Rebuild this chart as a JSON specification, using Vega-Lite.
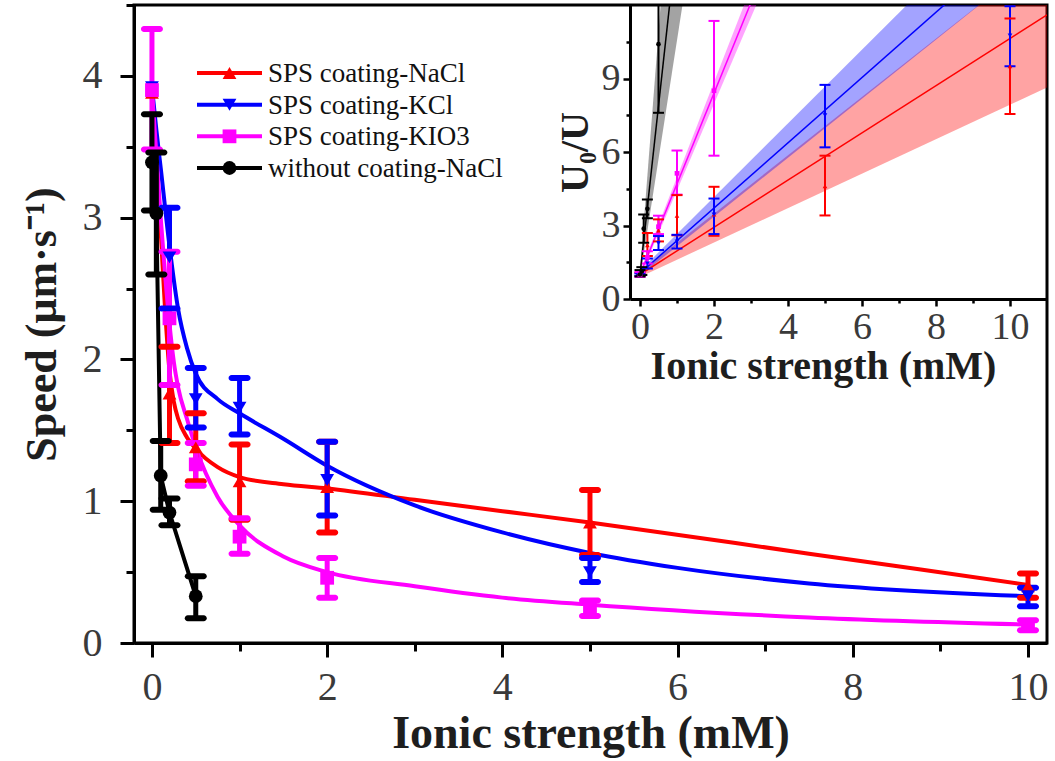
{
  "$schema": "https://vega.github.io/schema/vega-lite/v6.json",
  "width": 913,
  "height": 638,
  "autosize": "none",
  "padding": {"left": 134, "top": 5, "right": 8, "bottom": 118},
  "background": "white",
  "config": {
    "view": {"stroke": "black", "strokeWidth": 3},
    "font": "Liberation Serif",
    "legend": {"disable": true},
    "axis": {
      "grid": false,
      "domainColor": "black",
      "domainWidth": 3,
      "tickColor": "black",
      "labelFont": "Liberation Serif",
      "titleFont": "Liberation Serif",
      "titleFontWeight": "bold",
      "labelColor": "#3a3a3a",
      "titleColor": "#1e1e1e",
      "format": "d"
    }
  },
  "datasets": {
    "legendRows": [
      {"series": "SPS coating-NaCl"},
      {"series": "SPS coating-KCl"},
      {"series": "SPS coating-KIO3"},
      {"series": "without coating-NaCl"}
    ],
    "speed": [
      {"series": "SPS coating-NaCl", "x": 0, "y": 3.88, "lo": null, "hi": null},
      {"series": "SPS coating-NaCl", "x": 0.2, "y": 1.76, "lo": 1.41, "hi": 2.09},
      {"series": "SPS coating-NaCl", "x": 0.5, "y": 1.38, "lo": 1.14, "hi": 1.62},
      {"series": "SPS coating-NaCl", "x": 1, "y": 1.14, "lo": 0.87, "hi": 1.40},
      {"series": "SPS coating-NaCl", "x": 2, "y": 1.10, "lo": 0.78, "hi": 1.42},
      {"series": "SPS coating-NaCl", "x": 5, "y": 0.85, "lo": 0.62, "hi": 1.08},
      {"series": "SPS coating-NaCl", "x": 10, "y": 0.40, "lo": 0.32, "hi": 0.49},
      {"series": "SPS coating-KCl", "x": 0, "y": 3.92, "lo": null, "hi": null},
      {"series": "SPS coating-KCl", "x": 0.2, "y": 2.72, "lo": 2.36, "hi": 3.07},
      {"series": "SPS coating-KCl", "x": 0.5, "y": 1.72, "lo": 1.52, "hi": 1.94},
      {"series": "SPS coating-KCl", "x": 1, "y": 1.66, "lo": 1.47, "hi": 1.87},
      {"series": "SPS coating-KCl", "x": 2, "y": 1.15, "lo": 0.90, "hi": 1.42},
      {"series": "SPS coating-KCl", "x": 5, "y": 0.50, "lo": 0.43, "hi": 0.60},
      {"series": "SPS coating-KCl", "x": 10, "y": 0.33, "lo": 0.26, "hi": 0.39},
      {"series": "SPS coating-KIO3", "x": 0, "y": 3.90, "lo": 3.48, "hi": 4.33},
      {"series": "SPS coating-KIO3", "x": 0.2, "y": 2.29, "lo": 1.82, "hi": 2.76},
      {"series": "SPS coating-KIO3", "x": 0.5, "y": 1.26, "lo": 1.11, "hi": 1.41},
      {"series": "SPS coating-KIO3", "x": 1, "y": 0.75, "lo": 0.63, "hi": 0.88},
      {"series": "SPS coating-KIO3", "x": 2, "y": 0.46, "lo": 0.32, "hi": 0.60},
      {"series": "SPS coating-KIO3", "x": 5, "y": 0.25, "lo": 0.19, "hi": 0.30},
      {"series": "SPS coating-KIO3", "x": 10, "y": 0.125, "lo": 0.09, "hi": 0.16},
      {"series": "without coating-NaCl", "x": 0, "y": 3.39, "lo": 3.05, "hi": 3.73},
      {"series": "without coating-NaCl", "x": 0.05, "y": 3.03, "lo": 2.60, "hi": 3.46},
      {"series": "without coating-NaCl", "x": 0.1, "y": 1.18, "lo": 0.94, "hi": 1.425},
      {"series": "without coating-NaCl", "x": 0.2, "y": 0.92, "lo": 0.83, "hi": 1.02},
      {"series": "without coating-NaCl", "x": 0.5, "y": 0.33, "lo": 0.175, "hi": 0.47}
    ],
    "speedFit": [
      {"series": "SPS coating-NaCl", "x": 0, "v": 3.88},
      {"series": "SPS coating-NaCl", "x": 0.05, "v": 3.4},
      {"series": "SPS coating-NaCl", "x": 0.1, "v": 2.9},
      {"series": "SPS coating-NaCl", "x": 0.15, "v": 2.35},
      {"series": "SPS coating-NaCl", "x": 0.2, "v": 1.92},
      {"series": "SPS coating-NaCl", "x": 0.25, "v": 1.7},
      {"series": "SPS coating-NaCl", "x": 0.3, "v": 1.58},
      {"series": "SPS coating-NaCl", "x": 0.4, "v": 1.45},
      {"series": "SPS coating-NaCl", "x": 0.5, "v": 1.37},
      {"series": "SPS coating-NaCl", "x": 0.75, "v": 1.24},
      {"series": "SPS coating-NaCl", "x": 1, "v": 1.17},
      {"series": "SPS coating-NaCl", "x": 1.5, "v": 1.12},
      {"series": "SPS coating-NaCl", "x": 2, "v": 1.09},
      {"series": "SPS coating-NaCl", "x": 3, "v": 1.01},
      {"series": "SPS coating-NaCl", "x": 4, "v": 0.93},
      {"series": "SPS coating-NaCl", "x": 5, "v": 0.85},
      {"series": "SPS coating-NaCl", "x": 7.5, "v": 0.63},
      {"series": "SPS coating-NaCl", "x": 10, "v": 0.41},
      {"series": "SPS coating-KCl", "x": 0, "v": 3.92},
      {"series": "SPS coating-KCl", "x": 0.05, "v": 3.62},
      {"series": "SPS coating-KCl", "x": 0.1, "v": 3.35},
      {"series": "SPS coating-KCl", "x": 0.2, "v": 2.8},
      {"series": "SPS coating-KCl", "x": 0.3, "v": 2.35},
      {"series": "SPS coating-KCl", "x": 0.4, "v": 2.08},
      {"series": "SPS coating-KCl", "x": 0.5, "v": 1.9},
      {"series": "SPS coating-KCl", "x": 0.75, "v": 1.72},
      {"series": "SPS coating-KCl", "x": 1, "v": 1.62},
      {"series": "SPS coating-KCl", "x": 1.5, "v": 1.44},
      {"series": "SPS coating-KCl", "x": 2, "v": 1.25},
      {"series": "SPS coating-KCl", "x": 3, "v": 0.97},
      {"series": "SPS coating-KCl", "x": 4, "v": 0.78},
      {"series": "SPS coating-KCl", "x": 5, "v": 0.635},
      {"series": "SPS coating-KCl", "x": 6, "v": 0.53},
      {"series": "SPS coating-KCl", "x": 7.5, "v": 0.42},
      {"series": "SPS coating-KCl", "x": 10, "v": 0.33},
      {"series": "SPS coating-KIO3", "x": 0, "v": 3.9},
      {"series": "SPS coating-KIO3", "x": 0.1, "v": 3.0},
      {"series": "SPS coating-KIO3", "x": 0.2, "v": 2.25},
      {"series": "SPS coating-KIO3", "x": 0.25, "v": 1.98},
      {"series": "SPS coating-KIO3", "x": 0.3, "v": 1.8},
      {"series": "SPS coating-KIO3", "x": 0.4, "v": 1.58},
      {"series": "SPS coating-KIO3", "x": 0.5, "v": 1.38},
      {"series": "SPS coating-KIO3", "x": 0.75, "v": 1.03},
      {"series": "SPS coating-KIO3", "x": 1, "v": 0.83},
      {"series": "SPS coating-KIO3", "x": 1.5, "v": 0.61},
      {"series": "SPS coating-KIO3", "x": 2, "v": 0.5},
      {"series": "SPS coating-KIO3", "x": 3, "v": 0.4},
      {"series": "SPS coating-KIO3", "x": 4, "v": 0.32},
      {"series": "SPS coating-KIO3", "x": 5, "v": 0.27},
      {"series": "SPS coating-KIO3", "x": 7.5, "v": 0.18},
      {"series": "SPS coating-KIO3", "x": 10, "v": 0.13}
    ],
    "ratio": [
      {"series": "SPS coating-NaCl", "x": 0, "r": 1, "lo": 0.93, "hi": 1.07},
      {"series": "SPS coating-NaCl", "x": 0.2, "r": 2.2, "lo": 1.76, "hi": 2.69},
      {"series": "SPS coating-NaCl", "x": 0.5, "r": 2.8, "lo": 2.35, "hi": 3.25},
      {"series": "SPS coating-NaCl", "x": 1, "r": 3.4, "lo": 2.6, "hi": 4.24},
      {"series": "SPS coating-NaCl", "x": 2, "r": 3.45, "lo": 2.58, "hi": 4.58},
      {"series": "SPS coating-NaCl", "x": 5, "r": 4.6, "lo": 3.41, "hi": 5.85},
      {"series": "SPS coating-NaCl", "x": 10, "r": 9.5, "lo": 7.55, "hi": 11.45},
      {"series": "SPS coating-KCl", "x": 0, "r": 1, "lo": 0.95, "hi": 1.05},
      {"series": "SPS coating-KCl", "x": 0.2, "r": 1.45, "lo": 1.25, "hi": 1.65},
      {"series": "SPS coating-KCl", "x": 0.5, "r": 2.28, "lo": 2.0, "hi": 2.57},
      {"series": "SPS coating-KCl", "x": 1, "r": 2.35, "lo": 2.06, "hi": 2.62},
      {"series": "SPS coating-KCl", "x": 2, "r": 3.45, "lo": 2.65, "hi": 4.1},
      {"series": "SPS coating-KCl", "x": 5, "r": 7.5, "lo": 6.19, "hi": 8.74},
      {"series": "SPS coating-KCl", "x": 10, "r": 10.75, "lo": 9.5, "hi": 11.95},
      {"series": "SPS coating-KIO3", "x": 0, "r": 1, "lo": 0.9, "hi": 1.1},
      {"series": "SPS coating-KIO3", "x": 0.2, "r": 1.7, "lo": 1.45, "hi": 1.95},
      {"series": "SPS coating-KIO3", "x": 0.5, "r": 2.95, "lo": 2.65, "hi": 3.4},
      {"series": "SPS coating-KIO3", "x": 1, "r": 5.13, "lo": 4.26, "hi": 6.06},
      {"series": "SPS coating-KIO3", "x": 2, "r": 8.5, "lo": 5.85, "hi": 11.35},
      {"series": "without coating-NaCl", "x": 0, "r": 1, "lo": 0.92, "hi": 1.18},
      {"series": "without coating-NaCl", "x": 0.05, "r": 1.12, "lo": 0.98, "hi": 1.3},
      {"series": "without coating-NaCl", "x": 0.1, "r": 2.87, "lo": 2.3, "hi": 3.45},
      {"series": "without coating-NaCl", "x": 0.2, "r": 3.68, "lo": 3.3, "hi": 4.06},
      {"series": "without coating-NaCl", "x": 0.5, "r": 10.4, "lo": 7.6, "hi": 13.5}
    ],
    "ratioFit": [
      {"series": "SPS coating-NaCl", "x": 0, "fit": 1.0, "lo": 0.9, "hi": 1.1},
      {"series": "SPS coating-NaCl", "x": 11, "fit": 11.6, "lo": 8.63, "hi": 14.2},
      {"series": "SPS coating-KCl", "x": 0, "fit": 1.05, "lo": 0.95, "hi": 1.15},
      {"series": "SPS coating-KCl", "x": 11, "fit": 15.7, "lo": 14.2, "hi": 17.7},
      {"series": "SPS coating-KIO3", "x": 0, "fit": 1.0, "lo": 0.9, "hi": 1.1},
      {"series": "SPS coating-KIO3", "x": 3.2, "fit": 12.84, "lo": 12.2, "hi": 13.5},
      {"series": "without coating-NaCl", "x": 0, "fit": 1.0, "lo": 0.85, "hi": 1.15},
      {"series": "without coating-NaCl", "x": 1.2, "fit": 17.5, "lo": 12.5, "hi": 24.5}
    ]
  },
  "layer": [
    {
      "layer": [
        {
          "data": {"name": "speedFit"},
          "mark": {"type": "line", "strokeWidth": 4, "interpolate": "monotone"},
          "encoding": {
            "x": {
              "field": "x", "type": "quantitative",
              "scale": {"domain": [-0.205, 10.217], "nice": false, "zero": false},
              "axis": {
                "orient": "bottom",
                "values": [0, 1, 2, 3, 4, 5, 6, 7, 8, 9, 10],
                "labelExpr": "datum.value % 2 ? '' : datum.label",
                "tickSize": {"condition": {"test": "datum.value % 2", "value": 8}, "value": 14},
                "tickWidth": 3,
                "labelFontSize": 40,
                "labelPadding": 10,
                "title": "Ionic strength (mM)",
                "titleFontSize": 46,
                "titlePadding": 4
              }
            },
            "y": {
              "field": "v", "type": "quantitative",
              "scale": {"domain": [0, 4.5], "nice": false},
              "axis": {
                "orient": "left",
                "values": [0, 0.5, 1, 1.5, 2, 2.5, 3, 3.5, 4, 4.5],
                "labelExpr": "datum.value % 1 ? '' : datum.label",
                "tickSize": {"condition": {"test": "datum.value % 1", "value": 8}, "value": 14},
                "tickWidth": 3,
                "labelFontSize": 40,
                "labelPadding": 18,
                "title": "Speed (μm·s⁻¹)",
                "titleFontSize": 44,
                "titlePadding": 18
              }
            },
            "color": {
              "field": "series", "type": "nominal",
              "scale": {
                "domain": ["SPS coating-NaCl", "SPS coating-KCl", "SPS coating-KIO3", "without coating-NaCl"],
                "range": ["#ff0000", "#0000ff", "#ff00ff", "#000000"]
              }
            }
          }
        },
        {
          "data": {"name": "speed"},
          "transform": [{"filter": "datum.series === 'without coating-NaCl'"}],
          "mark": {"type": "line", "strokeWidth": 4},
          "encoding": {
            "x": {"field": "x", "type": "quantitative"},
            "y": {"field": "y", "type": "quantitative"},
            "color": {"field": "series", "type": "nominal"}
          }
        },
        {
          "data": {"name": "speed"},
          "transform": [{"filter": "isValid(datum.lo)"}],
          "mark": {"type": "rule", "strokeWidth": 5},
          "encoding": {
            "x": {"field": "x", "type": "quantitative"},
            "y": {"field": "lo", "type": "quantitative"},
            "y2": {"field": "hi"},
            "color": {"field": "series", "type": "nominal"}
          }
        },
        {
          "data": {"name": "speed"},
          "transform": [{"filter": "isValid(datum.lo)"}],
          "mark": {"type": "tick", "orient": "horizontal", "size": 22, "thickness": 6, "cornerRadius": 3, "opacity": 1},
          "encoding": {
            "x": {"field": "x", "type": "quantitative"},
            "y": {"field": "lo", "type": "quantitative"},
            "color": {"field": "series", "type": "nominal"}
          }
        },
        {
          "data": {"name": "speed"},
          "transform": [{"filter": "isValid(datum.hi)"}],
          "mark": {"type": "tick", "orient": "horizontal", "size": 22, "thickness": 6, "cornerRadius": 3, "opacity": 1},
          "encoding": {
            "x": {"field": "x", "type": "quantitative"},
            "y": {"field": "hi", "type": "quantitative"},
            "color": {"field": "series", "type": "nominal"}
          }
        },
        {
          "data": {"name": "speed"},
          "mark": {"type": "point", "filled": true, "size": 190, "opacity": 1},
          "encoding": {
            "x": {"field": "x", "type": "quantitative"},
            "y": {"field": "y", "type": "quantitative"},
            "color": {"field": "series", "type": "nominal"},
            "shape": {
              "field": "series", "type": "nominal",
              "scale": {
                "domain": ["SPS coating-NaCl", "SPS coating-KCl", "SPS coating-KIO3", "without coating-NaCl"],
                "range": ["triangle-up", "triangle-down", "square", "circle"]
              }
            }
          }
        }
      ]
    },
    {
      "layer": [
        {
          "data": {"name": "ratioFit"},
          "mark": {"type": "area", "opacity": 0.36, "clip": true},
          "encoding": {
            "x": {
              "field": "x", "type": "quantitative",
              "scale": {"domain": [-0.27, 11], "range": [496, 913], "nice": false, "zero": false},
              "axis": {
                "orient": "bottom",
                "offset": -344,
                "values": [0, 1, 2, 3, 4, 5, 6, 7, 8, 9, 10],
                "labelExpr": "datum.value % 2 ? '' : datum.label",
                "tickSize": {"condition": {"test": "datum.value % 2", "value": 4}, "value": 7},
                "tickWidth": 2.5,
                "labelFontSize": 38,
                "labelPadding": 2,
                "title": "Ionic strength (mM)",
                "titleFontSize": 40,
                "titlePadding": 0,
                "titleX": 689
              }
            },
            "y": {
              "field": "hi", "type": "quantitative",
              "scale": {"domain": [0, 12], "range": [294, 0], "nice": false},
              "axis": {
                "orient": "left",
                "offset": -496,
                "values": [0, 1.5, 3, 4.5, 6, 7.5, 9, 10.5],
                "labelExpr": "datum.value % 3 ? '' : datum.label",
                "tickSize": {"condition": {"test": "datum.value % 3", "value": 4}, "value": 7},
                "tickWidth": 2.5,
                "labelFontSize": 38,
                "labelPadding": 3,
                "title": "U₀/U",
                "titleFontSize": 40,
                "titlePadding": 6
              }
            },
            "y2": {"field": "lo"},
            "color": {"field": "series", "type": "nominal"}
          }
        },
        {
          "data": {"name": "ratioFit"},
          "mark": {"type": "line", "strokeWidth": 1.5, "clip": true},
          "encoding": {
            "x": {"field": "x", "type": "quantitative"},
            "y": {"field": "fit", "type": "quantitative"},
            "color": {"field": "series", "type": "nominal"}
          }
        },
        {
          "data": {"name": "ratio"},
          "mark": {"type": "rule", "strokeWidth": 2, "clip": true},
          "encoding": {
            "x": {"field": "x", "type": "quantitative"},
            "y": {"field": "lo", "type": "quantitative"},
            "y2": {"field": "hi"},
            "color": {"field": "series", "type": "nominal"}
          }
        },
        {
          "data": {"name": "ratio"},
          "mark": {"type": "tick", "orient": "horizontal", "size": 11, "thickness": 2, "opacity": 1, "clip": true},
          "encoding": {
            "x": {"field": "x", "type": "quantitative"},
            "y": {"field": "lo", "type": "quantitative"},
            "color": {"field": "series", "type": "nominal"}
          }
        },
        {
          "data": {"name": "ratio"},
          "mark": {"type": "tick", "orient": "horizontal", "size": 11, "thickness": 2, "opacity": 1, "clip": true},
          "encoding": {
            "x": {"field": "x", "type": "quantitative"},
            "y": {"field": "hi", "type": "quantitative"},
            "color": {"field": "series", "type": "nominal"}
          }
        },
        {
          "data": {"name": "ratio"},
          "mark": {"type": "point", "filled": true, "size": 22, "opacity": 1, "clip": true},
          "encoding": {
            "x": {"field": "x", "type": "quantitative"},
            "y": {"field": "r", "type": "quantitative"},
            "color": {"field": "series", "type": "nominal"},
            "shape": {"field": "series", "type": "nominal"}
          }
        }
      ]
    },
    {
      "data": {"name": "legendRows"},
      "encoding": {
        "y": {
          "field": "series", "type": "nominal",
          "scale": {
            "type": "point",
            "domain": ["SPS coating-NaCl", "SPS coating-KCl", "SPS coating-KIO3", "without coating-NaCl"],
            "range": [68, 163],
            "padding": 0
          },
          "axis": null
        },
        "color": {"field": "series", "type": "nominal"}
      },
      "layer": [
        {
          "mark": {"type": "rule", "strokeWidth": 4},
          "encoding": {
            "x": {"datum": 0, "type": "quantitative", "scale": {"domain": [0, 1], "range": [63, 128]}, "axis": null},
            "x2": {"datum": 1}
          }
        },
        {
          "mark": {"type": "point", "filled": true, "size": 190, "opacity": 1},
          "encoding": {
            "x": {"datum": 0.5, "type": "quantitative"},
            "shape": {"field": "series", "type": "nominal"}
          }
        },
        {
          "mark": {"type": "text", "align": "left", "baseline": "middle", "dx": 6, "dy": 1, "font": "Liberation Serif", "fontSize": 27},
          "encoding": {
            "x": {"datum": 1, "type": "quantitative"},
            "text": {"field": "series"},
            "color": {"value": "#111111"}
          }
        }
      ]
    }
  ],
  "resolve": {
    "scale": {"x": "independent", "y": "independent"},
    "axis": {"x": "independent", "y": "independent"}
  }
}
